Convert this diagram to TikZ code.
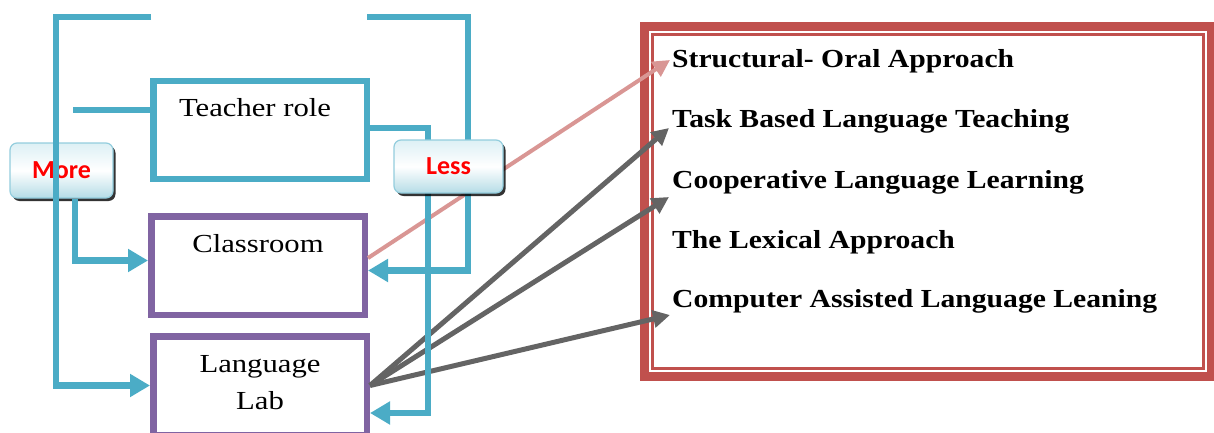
\documentclass[tikz,border=0pt]{standalone}
\usepackage{fontspec}
\usetikzlibrary{positioning,arrows.meta,shadows}
\newfontfamily\boxfont{Liberation Serif}[FakeStretch=1.18]
\newfontfamily\methodfont{Liberation Serif}[FakeStretch=1.14]
\newfontfamily\tagfont{Carlito}
\definecolor{flowblue}{HTML}{4BACC6}
\definecolor{roompurple}{HTML}{8064A2}
\definecolor{framered}{HTML}{C0504D}
\definecolor{linkpink}{HTML}{D99694}
\definecolor{linkgray}{HTML}{646464}
\definecolor{tagtop}{HTML}{DDF0F5}
\definecolor{tagbottom}{HTML}{B5DCE6}
\definecolor{tagedge}{HTML}{93CDDD}

\begin{document}
\begin{tikzpicture}[x=1pt,y=-1pt,
    box/.style={draw=#1,line width=6.5pt,fill=white,minimum width=213.5pt,inner sep=0pt},
    boxlabel/.style={font=\boxfont\fontsize{26}{37}\selectfont,inner sep=0pt,align=center},
    method/.style={anchor=base west,inner sep=0pt,font=\methodfont\bfseries\fontsize{26}{26}\selectfont},
    tag/.style={rounded corners=7pt,draw=tagedge,line width=1.2pt,
      top color=tagtop,bottom color=tagbottom,middle color=white,
      drop shadow={shadow xshift=2.5pt,shadow yshift=-3pt,fill=black,opacity=.8},
      text=red,font=\tagfont\bfseries\fontsize{26}{26}\selectfont},
    flowline/.style={draw=flowblue,line width=6.5pt},
    flow/.style={flowline,-{Triangle[length=20pt,width=22pt]}},
    link/.style={draw=#1,line width=5pt,-{Triangle[length=17pt,width=17pt]}}]
  \clip (0,0) rectangle (1214,433);

  % frame with the methods
  \node[draw=framered,line width=9pt,minimum width=567pt,minimum height=350pt] (methods) at (928,201.5) {};
  \draw[framered,line width=3pt] ([shift={(12.5pt,-12.5pt)}]methods.north west)
    rectangle ([shift={(-12.5pt,12.5pt)}]methods.south east);
  \node[method] (structural) at (672,68) {Structural- Oral Approach};
  \node[method] (task) at (672,128) {Task Based Language Teaching};
  \node[method] (cooperative) at (672,188) {Cooperative Language Learning};
  \node[method] (lexical) at (672,248) {The Lexical Approach};
  \node[method] (computer) at (672,307) {Computer Assisted Language Leaning};

  % the three boxes
  \node[box=flowblue,minimum height=97.5pt] (teacher) at (260,130) {};
  \node[box=roompurple,minimum height=98.5pt] (classroom) at (258,265.5) {};
  \node[box=roompurple,minimum height=98.5pt] (lab) at (260,385.5) {};
  \node[boxlabel,below=20pt of teacher.north,xshift=-5pt] (teachertext) {Teacher role};
  \node[boxlabel,below=21pt of classroom.north] (classroomtext) {Classroom};
  \node[boxlabel,below=22pt of lab.north] (labtext) {Language\\Lab};

  \node[tag,minimum width=103pt,minimum height=55pt] (more) at (61.5,170.5) {More};

  % methods reached from classroom and lab
  \draw[link=linkgray] (lab.east) -- ([shift={(-3pt,0pt)}]task.base west);
  \draw[link=linkgray] (lab.east) -- ([shift={(-3pt,-9pt)}]cooperative.base west);
  \draw[link=linkgray] (lab.east) -- ([shift={(-2pt,-8pt)}]computer.base west);
  \draw[link=linkpink,line width=4pt] ([yshift=7.5pt]classroom.east) -- ([shift={(-2pt,8pt)}]structural.base west);

  % more / less
  \coordinate (lefttop) at (151,17);
  \coordinate (righttop) at (367,17);
  \coordinate (teacherin) at (73,110);
  \draw[flow] (lefttop) -| ([xshift=-94pt]lab.west) -- (lab.west);
  \draw[flowline] (teacherin) -- (teacherin -| teacher.west);
  \draw[flow] ([xshift=13.5pt]more.south) |- ([yshift=5pt]classroom.west);
  \draw[flow] (righttop) -| ([shift={(100pt,-5pt)}]classroom.east) -- ([yshift=-5pt]classroom.east);
  \draw[flow] ([yshift=2pt]teacher.east) -| ([shift={(58pt,-27.5pt)}]lab.east) -- ([yshift=-27.5pt]lab.east);

  \node[tag,minimum width=109pt,minimum height=53pt] (less) at (448.5,166.5) {Less};
\end{tikzpicture}
\end{document}
